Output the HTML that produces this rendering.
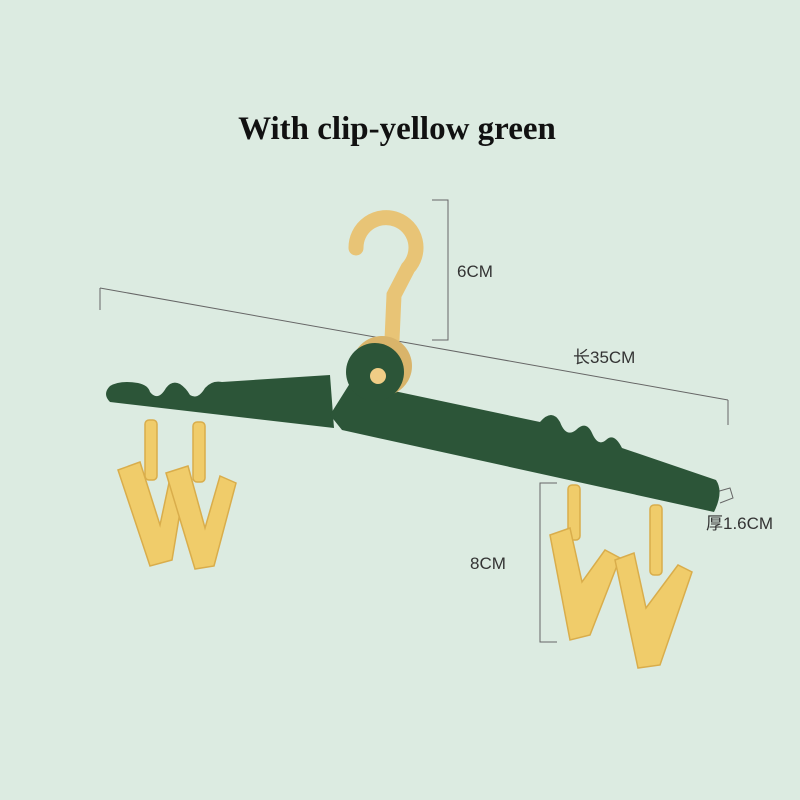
<!DOCTYPE html>
<html><head><style>body{margin:0;background:#dcebe1;}svg{display:block}</style></head>
<body>
<svg width="800" height="800" viewBox="0 0 800 800" xmlns="http://www.w3.org/2000/svg">
<rect width="800" height="800" fill="#dcebe1"/>
<text x="397" y="139" text-anchor="middle" font-family="Liberation Serif, serif" font-weight="bold" font-size="33" fill="#111">With clip-yellow green</text>
<g stroke="#666" stroke-width="1" fill="none">
<path d="M432 200 H448 V340 H432"/>
<path d="M100 288 L728 400"/>
<path d="M100 288 V310"/>
<path d="M728 400 V425"/>
<path d="M557 483 H540 V642 H557"/>
<path d="M716 492 L730 488 L733 498 L720 503"/>
</g>
<g font-family="Liberation Sans, 'Noto Sans CJK SC', sans-serif" font-size="17" fill="#333">
<text x="457" y="277">6CM</text>
<text x="573" y="363">长35CM</text>
<text x="470" y="569">8CM</text>
<text x="706" y="529">厚1.6CM</text>
</g>
<path d="M356 248 A30 30 0 1 1 408 268 L394 295 L392 340" stroke="#e8c476" stroke-width="15" fill="none" stroke-linecap="round"/>
<g fill="#f0cc6a" stroke="#d9ad4b" stroke-width="1.5">
<rect x="145" y="420" width="12" height="60" rx="4"/>
<rect x="193" y="422" width="12" height="60" rx="4"/>
<path d="M118 470 L140 462 L160 525 L170 478 L185 482 L172 560 L150 566 Z"/>
<path d="M166 473 L188 466 L205 528 L220 476 L236 483 L214 566 L195 569 Z"/>
<rect x="568" y="485" width="12" height="55" rx="4"/>
<rect x="650" y="505" width="12" height="70" rx="4"/>
<path d="M550 535 L570 528 L582 582 L605 550 L620 558 L590 635 L570 640 Z"/>
<path d="M615 560 L634 553 L646 608 L678 565 L692 572 L660 665 L638 668 Z"/>
</g>
<g fill="#2c5538">
<path d="M110 386 Q120 380 138 383 Q148 385 150 392 Q158 402 166 388 Q172 380 180 384 Q186 388 190 395 Q198 400 205 388 Q212 380 222 382 L330 375 L334 428 L110 402 Q102 394 110 386 Z"/>
<path d="M352 380 L380 388 L540 422 Q552 408 560 422 Q566 438 576 430 Q586 420 592 433 Q598 447 606 440 Q614 432 622 448 L716 480 Q724 492 714 512 L342 430 L330 415 Z"/>
<circle cx="382" cy="366" r="30" fill="#d9b46a"/>
<circle cx="375" cy="372" r="29"/>
</g>
<circle cx="378" cy="376" r="8" fill="#f0cd86"/>
</svg>
</body></html>
